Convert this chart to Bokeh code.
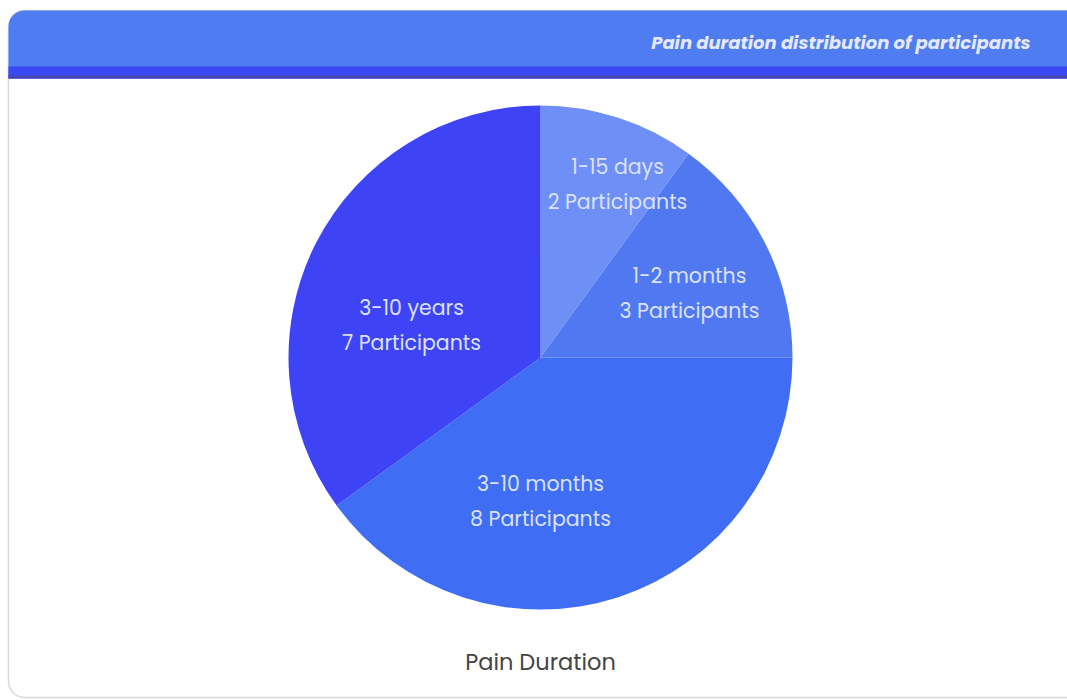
import math
from bokeh.plotting import figure
from bokeh.models import ColumnDataSource
from bokeh.core.properties import value
from bokeh.embed import file_html
from bokeh.resources import INLINE

# ---- data ----
categories = ["1-15 days", "1-2 months", "3-10 months", "3-10 years"]
participants = [2, 3, 8, 7]
colors = ["#6e8ff6", "#5079f1", "#3f6ef4", "#3e43f6"]
title_text = "Pain duration distribution of participants"
xlabel_text = "Pain Duration"

# ---- layout (pixels, y measured from top) ----
W, H = 1067, 700
cx, cy, R = 540, 357, 252
# label anchor offsets from pie centre (dx, dy in px, dy downward)
label_offsets = [(77, -174), (149, -65), (0, 143), (-129, -33)]
line_gap = 35
FONT = "Poppins, Inter"

def Y(py):
    return H - py

p = figure(width=W, height=H, x_range=(0, W), y_range=(0, H),
           output_backend="svg", toolbar_location=None, min_border=0,
           background_fill_color="white", border_fill_color="white")
p.axis.visible = False
p.grid.visible = False
p.outline_line_color = None

# card
p.quad(left=8, right=W + 20, top=Y(10), bottom=Y(697), fill_color="white",
       line_color="#d9d9d9", line_width=1.5, border_radius=16)
# header band
p.quad(left=8, right=W + 20, top=Y(10), bottom=Y(78), fill_color="#4f7cf0",
       line_color=None, border_radius=[16, 16, 0, 0])
p.quad(left=8, right=W + 20, top=Y(66), bottom=Y(78), fill_color="#3a48f2",
       line_color=None)
p.quad(left=8, right=W + 20, top=Y(75), bottom=Y(78), fill_color="#4646b0",
       line_color=None)
p.text(x=[1030], y=[Y(42)], text=[title_text], text_align="right",
       text_baseline="middle", text_color="#e4e9fa",
       text_font=value(FONT), text_font_size="18px",
       text_font_style="bold italic")

# pie
total = sum(participants)
starts, ends = [], []
cum = 0
for v in participants:
    a0 = math.pi / 2 - 2 * math.pi * cum / total
    cum += v
    a1 = math.pi / 2 - 2 * math.pi * cum / total
    starts.append(a0)
    ends.append(a1)
src = ColumnDataSource(dict(cat=categories, val=participants, start=starts,
                            end=ends, color=colors))
p.wedge(x=cx, y=Y(cy), radius=R, start_angle="start", end_angle="end",
        direction="clock", fill_color="color", line_color=None, source=src)

# labels
lx = [cx + dx for dx, dy in label_offsets]
l1y = [Y(cy + dy - line_gap / 2) for dx, dy in label_offsets]
l2y = [Y(cy + dy + line_gap / 2) for dx, dy in label_offsets]
p.text(x=lx, y=l1y, text=categories, text_align="center",
       text_baseline="middle", text_color="#dbe1f6",
       text_font=value(FONT), text_font_size="20.5px")
p.text(x=lx, y=l2y, text=[f"{v} Participants" for v in participants],
       text_align="center", text_baseline="middle", text_color="#dbe1f6",
       text_font=value(FONT), text_font_size="20.5px")

# x label
p.text(x=[cx], y=[Y(661)], text=[xlabel_text], text_align="center",
       text_baseline="middle", text_color="#444444",
       text_font=value(FONT), text_font_size="22.5px")

open("out.html", "w").write(file_html(p, INLINE))
